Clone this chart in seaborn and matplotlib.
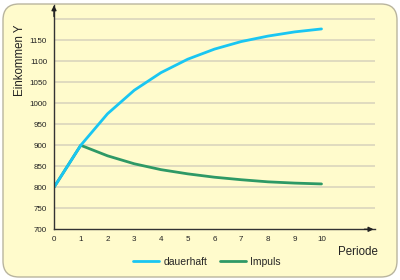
import matplotlib
matplotlib.use("Agg")
import matplotlib.pyplot as plt
from matplotlib.patches import FancyBboxPatch
from matplotlib.lines import Line2D
import seaborn as sns
import pandas as pd

perioden = [0, 1, 2, 3, 4, 5, 6, 7, 8, 9, 10]
dauerhaft = [800, 900, 975, 1031, 1073, 1105, 1129, 1147, 1160, 1170, 1177]
impuls = [800, 900, 875, 856, 842, 832, 824, 818, 813, 810, 808]
y_ticks = [700, 750, 800, 850, 900, 950, 1000, 1050, 1100, 1150, 1200]
y_ticklabels = ["700", "750", "800", "850", "900", "950", "1000", "1050", "1100", "1150", ""]
x_ticks = [0, 1, 2, 3, 4, 5, 6, 7, 8, 9, 10]

sns.set_theme(style="white")
plt.rcParams['font.family'] = ['Liberation Sans', 'DejaVu Sans']

bg = "#FFFBCC"
c_d = "#19C6F2"
c_i = "#2E9966"

fig = plt.figure(figsize=(4, 2.8), dpi=100)
fig.patch.set_facecolor("white")
frame = FancyBboxPatch((3, 3), 394, 273, boxstyle="round,pad=0,rounding_size=16",
                       transform=None, facecolor=bg, edgecolor="#B9B59E", linewidth=1.0,
                       zorder=-10)
fig.patches.append(frame)

ax = fig.add_axes([54/400, 1 - 229.3/280, (375-54)/400, (229.3-5)/280])
ax.set_facecolor("none")
ax.set_zorder(5)

df = pd.DataFrame({
    "Periode": perioden * 2,
    "Y": impuls + dauerhaft,
    "Serie": ["Impuls"] * len(perioden) + ["dauerhaft"] * len(perioden),
})
sns.lineplot(data=df, x="Periode", y="Y", hue="Serie",
             palette={"Impuls": c_i, "dauerhaft": c_d}, linewidth=2.0,
             ax=ax, legend=False)

ax.set_xlim(0, 12)
ax.set_ylim(700, 1234)
ax.set_yticks(y_ticks)
ax.set_yticklabels(y_ticklabels)
ax.set_xticks(x_ticks)
for yv in y_ticks[1:]:
    ax.axhline(yv, color="#DDD8BE", linewidth=1.3, zorder=0)

for s in ["top", "right"]:
    ax.spines[s].set_visible(False)
for s in ["left", "bottom"]:
    ax.spines[s].set_color("#333333")
    ax.spines[s].set_linewidth(1.0)

ax.tick_params(axis="both", labelsize=5.8, colors="#222222", length=3, width=0.8,
               direction="out", pad=2)
ax.set_xlabel("")
ax.set_ylabel("")

# arrows
ax.annotate("", xy=(12.05, 700), xytext=(11.5, 700), xycoords="data",
            arrowprops=dict(arrowstyle="-|>", color="#222222", lw=1.0, mutation_scale=7),
            annotation_clip=False)
ax.annotate("", xy=(0, 1240), xytext=(0, 1200), xycoords="data",
            arrowprops=dict(arrowstyle="-|>", color="#222222", lw=1.0, mutation_scale=7),
            annotation_clip=False)

fig.text(20/400, 1 - 60/280, "Einkommen Y", rotation=90, ha="center", va="center",
         fontsize=8.3, color="#222222")
fig.text(358/400, 1 - 252/280, "Periode", ha="center", va="center",
         fontsize=8.3, color="#222222")

handles = [Line2D([0], [0], color=c_d, lw=2.0), Line2D([0], [0], color=c_i, lw=2.0)]
fig.legend(handles, ["dauerhaft", "Impuls"], loc="center", bbox_to_anchor=(207/400, 1 - 262/280),
           ncol=2, frameon=False, fontsize=7.5, handlelength=2.5, columnspacing=1.2,
           handletextpad=0.4)

fig.savefig("out.png", dpi=100, facecolor=fig.get_facecolor())
